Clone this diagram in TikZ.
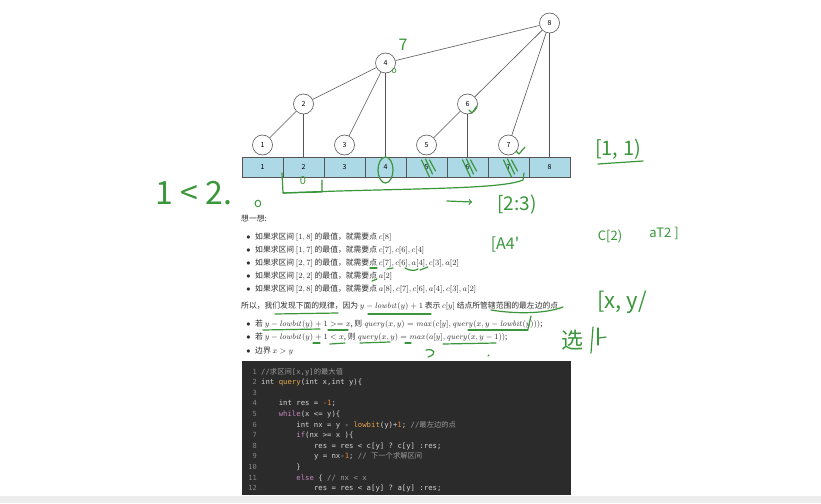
\documentclass[tikz,border=0pt]{standalone}
\usepackage[no-math]{fontspec}
\setmainfont{Noto Sans CJK SC}
\setmonofont{DejaVu Sans Mono}
\newfontfamily\cjk{Noto Sans CJK SC}
\definecolor{cellblue}{HTML}{ADD8E6}
\definecolor{edgec}{HTML}{555555}
\definecolor{txt}{HTML}{2E2E2E}
\definecolor{codebg}{HTML}{2B2B2B}
\definecolor{codefg}{HTML}{D4D4D4}
\definecolor{kwc}{HTML}{C586C0}
\definecolor{fnc}{HTML}{E5A550}
\definecolor{numc}{HTML}{E0843A}
\definecolor{cmtc}{HTML}{9A9A9A}
\definecolor{lnc}{HTML}{858585}
\definecolor{hand}{RGB}{58,150,58}
\newcommand\kwd[1]{\textcolor{kwc}{#1}}
\newcommand\fnm[1]{\textcolor{fnc}{#1}}
\newcommand\nmb[1]{\textcolor{numc}{#1}}
\newcommand\cmt[1]{\textcolor{cmtc}{#1}}
\tikzset{
  tnode/.style={circle,draw=edgec,fill=white,line width=0.6pt,minimum size=20pt,inner sep=0pt,font=\fontsize{7}{8}\selectfont},
  cell/.style={rectangle,draw=edgec,fill=cellblue,line width=0.6pt,minimum width=41pt,minimum height=20pt,inner sep=0pt,font=\fontsize{7}{8}\selectfont},
  tedge/.style={draw=edgec,line width=0.6pt},
  para/.style={anchor=base west,inner sep=0pt,text=txt,font=\fontsize{7.8}{9}\selectfont},
  bul/.style={anchor=base,inner sep=0pt,text=txt,font=\fontsize{7.6}{9}\selectfont},
  codeln/.style={anchor=base west,inner sep=0pt,text=codefg,font=\fontsize{7.3}{9}\selectfont\ttfamily},
  lnum/.style={anchor=base east,inner sep=0pt,text=lnc,font=\fontsize{7}{9}\selectfont\ttfamily},
  handtxt/.style={inner sep=0pt,text=hand,font=\cjk},
  handln/.style={draw=hand,line width=1.2pt,line cap=round,line join=round},
}
\begin{document}
\begin{tikzpicture}[x=1pt,y=-1pt]
\useasboundingbox (0,0) rectangle (821,503);
\fill[white] (0,0) rectangle (821,503);
% array
\foreach \i in {1,...,8}{
  \node[cell] (c\i) at ({221.5+41*\i},167) {\i};
}
% tree
\node[tnode] (t1) at (262.5,145) {1};
\node[tnode] (t2) at (303.5,104) {2};
\node[tnode] (t3) at (344.5,145) {3};
\node[tnode] (t4) at (385.5,63) {4};
\node[tnode] (t5) at (426.5,145) {5};
\node[tnode] (t6) at (467.5,104) {6};
\node[tnode] (t7) at (508.5,145) {7};
\node[tnode] (t8) at (549.5,23) {8};
\draw[tedge] (t1) -- (t2);
\draw[tedge] (t2) -- (t4);
\draw[tedge] (t3) -- (t4);
\draw[tedge] (t4) -- (t8);
\draw[tedge] (t5) -- (t6);
\draw[tedge] (t6) -- (t8);
\draw[tedge] (t7) -- (t8);
\draw[tedge] (t2) -- (c2.north);
\draw[tedge] (t4) -- (c4.north);
\draw[tedge] (t6) -- (c6.north);
\draw[tedge] (t8) -- (c8.north);
% text
\node[para] (h0) at (241,221) {想一想:};
\foreach \yy/\tx [count=\k] in {
  239/{如果求区间 $[1,8]$ 的最值，就需要点 $c[8]$},
  252/{如果求区间 $[1,7]$ 的最值，就需要点 $c[7],c[6],c[4]$},
  265/{如果求区间 $[2,7]$ 的最值，就需要点 $c[7],c[6],a[4],c[3],a[2]$},
  278/{如果求区间 $[2,2]$ 的最值，就需要点 $a[2]$},
  291/{如果求区间 $[2,8]$ 的最值，就需要点 $a[8],c[7],c[6],a[4],c[3],a[2]$}}{
  \node[bul] (b\k) at (248.5,\yy) {$\bullet$};
  \node[para] (l\k) at (255,\yy) {\tx};
}
\node[para] (so) at (241,308) {所以，我们发现下面的规律，因为 $y-\mathit{lowbit}(y)+1$ 表示 $c[y]$ 结点所管辖范围的最左边的点};
\node[bul] (rb1) at (248.5,326) {$\bullet$};
\node[para] (r1) at (255,326) {若 $y-\mathit{lowbit}(y)+1>=x$, 则 $\mathit{query}(x,y)=\mathit{max}(c[y],\mathit{query}(x,y-\mathit{lowbit}(y)))$;};
\node[bul] (rb2) at (248.5,339) {$\bullet$};
\node[para] (r2) at (255,339) {若 $y-\mathit{lowbit}(y)+1<x$, 则 $\mathit{query}(x,y)=\mathit{max}(a[y],\mathit{query}(x,y-1))$;};
\node[bul] (rb3) at (248.5,353) {$\bullet$};
\node[para] (r3) at (255,353) {边界 $x>y$};
% code block
\node[fill=codebg,minimum width=329pt,minimum height=134pt,anchor=north west,inner sep=0pt] (code) at (242,361) {};
\foreach \n in {1,...,12}{
  \node[lnum] (n\n) at (257,{374+10.6*(\n-1)}) {\n};
}
\node[codeln] (k1) at (261,374) {\cmt{//{\cjk 求区间}[x,y]{\cjk 的最大值}}};
\node[codeln] (k2) at (261,384.6) {int \fnm{query}(int x,int y)\{};
\node[codeln] (k4) at (278.6,405.8) {int res = \nmb{-1};};
\node[codeln] (k5) at (278.6,416.4) {\kwd{while}(x <= y)\{};
\node[codeln] (k6) at (296.2,427) {int nx = y - \fnm{lowbit}(y)+\nmb{1}; \cmt{//{\cjk 最左边的点}}};
\node[codeln] (k7) at (296.2,437.6) {\kwd{if}(nx >= x )\{};
\node[codeln] (k8) at (313.8,448.2) {res = res < c[y] ? c[y] :res;};
\node[codeln] (k9) at (313.8,458.8) {y = nx-\nmb{1}; \cmt{// {\cjk 下一个求解区间}}};
\node[codeln] (k10) at (296.2,469.4) {\}};
\node[codeln] (k11) at (296.2,480) {\kwd{else} \{ \cmt{// nx < x}};
\node[codeln] (k12) at (313.8,490.6) {res = res < a[y] ? a[y] :res;};
\fill[white!93!black] (0,496) rectangle (821,503);
% handwritten annotations
\node[handtxt,font=\cjk\fontsize{16}{16}\selectfont] (a7) at (403,45) {7};
\node[handtxt,font=\cjk\fontsize{9}{9}\selectfont] (ao) at (394,71) {o};
\node[handtxt,font=\cjk\fontsize{20}{20}\selectfont] (a11) at (618,149) {[1, 1)};
\draw[handln] (598,164) -- (643,161);
\node[handtxt,font=\cjk\fontsize{32}{32}\selectfont] (a12) at (194,193) {1 < 2.};
\node[handtxt,font=\cjk\fontsize{13}{13}\selectfont] (a0) at (258,204) {o};
\node[handtxt,font=\cjk\fontsize{19}{19}\selectfont] (a23) at (517,205) {[2:3)};
\draw[handln,->] (447,201) -- (472,202);
\node[handtxt,font=\cjk\fontsize{16}{16}\selectfont] (a4) at (505,245) {[A4'};
\node[handtxt,font=\cjk\fontsize{13}{13}\selectfont] (ac) at (610,236) {C[2)};
\node[handtxt,font=\cjk\fontsize{13}{13}\selectfont] (aa) at (664,233) {aT2 ]};
\node[handtxt,font=\cjk\fontsize{22}{22}\selectfont] (axy) at (622,302) {[x, y/};
\node[handtxt,font=\cjk\fontsize{22}{22}\selectfont] (asel) at (572,340) {选};
\draw[handln] (593,327) -- (591,353);
\draw[handln] (598,328) -- (598,345);
\draw[handln] (599,338) -- (606,337);
% marks on array
\draw[handln] (385.5,170) ellipse (7.5 and 13);
\foreach \cx in {426.5,467.5,508.5}{
  \draw[handln] (\cx-5,160) -- (\cx+3,177);
  \draw[handln] (\cx-1,159) -- (\cx+6,174);
  \draw[handln] (\cx+3,160) -- (\cx+9,171);
}
\draw[handln] (469,110) -- (472,113) -- (477,106);
\draw[handln] (516,151) -- (519,154) -- (525,147);
\draw[handln] (282,173) -- (283,193) -- (322,192) -- (322,180);
\draw[handln] (283,193) .. controls (400,188) and (500,190) .. (523,180) -- (524,173);
\node[handtxt,font=\cjk\fontsize{11}{11}\selectfont] (a00) at (303,181) {0};
% underlines
\draw[handln] (275,314) -- (338,313);
\draw[handln] (368,314) -- (431,314);
\draw[handln] (491,310) .. controls (515,314) and (545,314) .. (563,307);
\draw[handln] (531,316) -- (528,329);
\draw[handln] (263,330) -- (320,329);
\draw[handln] (328,330) -- (348,330);
\draw[handln] (468,330) -- (528,330);
\draw[handln] (313,343) -- (320,343);
\draw[handln] (330,344) -- (345,343);
\draw[handln] (360,343) -- (390,342);
\draw[handln] (405,343) -- (411,343);
\draw[handln] (443,344) -- (496,343);
\draw[handln] (426,350) .. controls (434,348) and (438,354) .. (428,357);
\draw[handln] (488,356) -- (489,355);
\draw[handln] (370,268) -- (377,268);
\draw[handln] (387,269) -- (393,268);
\draw[handln] (405,268) .. controls (410,271) and (415,271) .. (418,269);
\draw[handln] (420,270) -- (428,267);
\draw[handln] (372,281) -- (377,279);
\end{tikzpicture}
\end{document}
